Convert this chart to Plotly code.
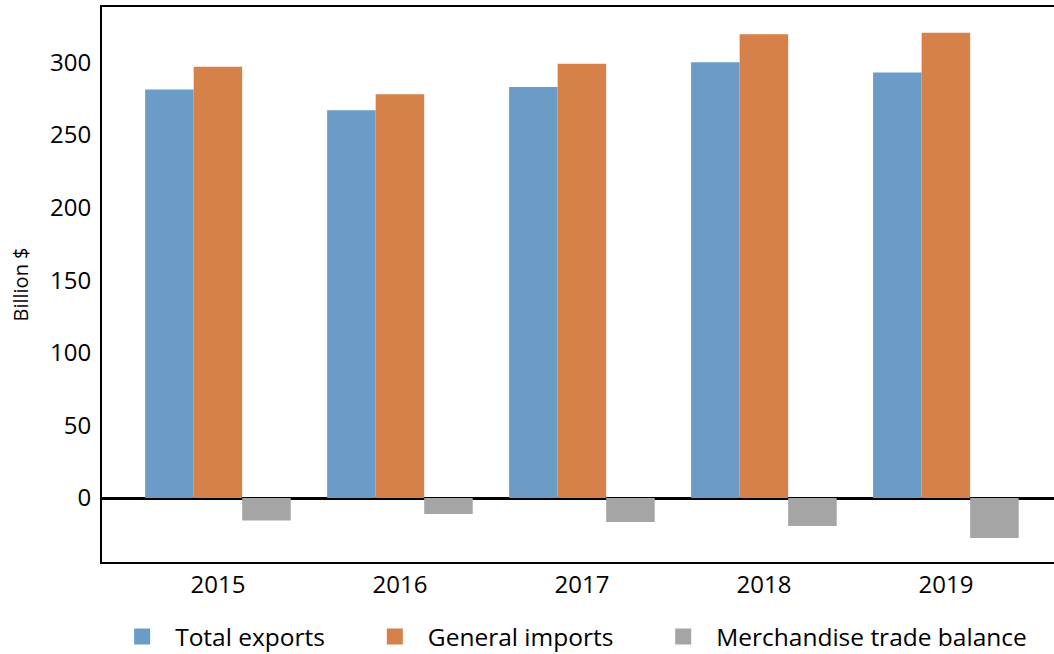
import plotly.graph_objects as go

years = ["2015", "2016", "2017", "2018", "2019"]
total_exports = [281.2, 267.0, 283.0, 300.0, 293.0]
general_imports = [296.8, 278.0, 299.0, 319.3, 320.2]
trade_balance = [-15.4, -11.0, -16.5, -19.2, -27.5]

series_names = ["Total exports", "General imports", "Merchandise trade balance"]
series_colors = ["#6A9CC7", "#D6814A", "#A5A5A5"]
y_ticks = [0, 50, 100, 150, 200, 250, 300]

fig = go.Figure()
for name, vals, col in zip(series_names, [total_exports, general_imports, trade_balance], series_colors):
    fig.add_trace(go.Bar(x=years, y=vals, name=name, showlegend=False,
                         marker=dict(color=col, line=dict(width=0))))

pad = "\u00a0" * 5
for i, (name, col) in enumerate(zip(series_names, series_colors)):
    fig.add_trace(go.Scatter(x=[None], y=[None], mode="markers", name=name + (pad if i < 2 else ""),
                             marker=dict(symbol="square", size=16, color=col), showlegend=True))

fig.update_layout(
    width=1054, height=654,
    margin=dict(l=102, r=0, t=7, b=92, autoexpand=False),
    paper_bgcolor="white", plot_bgcolor="white",
    barmode="group", bargap=0.2, bargroupgap=0,
    font=dict(family="Open Sans", size=24, color="black"),
    showlegend=True,
    legend=dict(orientation="h", x=0.0075, xanchor="left", y=-0.094, yanchor="top",
                font=dict(family="Open Sans", size=24.5), itemwidth=56,
                traceorder="normal", bgcolor="rgba(0,0,0,0)"),
)
fig.update_xaxes(type="category", range=[-0.637, 4.594], showline=True,
                 linecolor="black", linewidth=2, mirror=True, ticks="",
                 showgrid=False, tickfont=dict(size=24))
fig.update_yaxes(range=[-44, 338], tickvals=y_ticks, showline=True,
                 linecolor="black", linewidth=2, mirror=False, ticks="",
                 showgrid=False, zeroline=True, zerolinecolor="black",
                 zerolinewidth=3, ticklabelstandoff=4,
                 title=dict(text="Billion $", font=dict(size=20), standoff=16),
                 tickfont=dict(size=24))

fig.write_html("out.html")
